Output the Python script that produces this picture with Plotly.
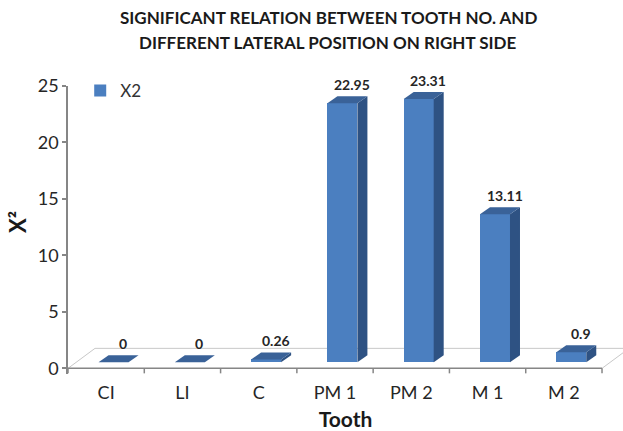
import plotly.graph_objects as go

# Chi-square values per tooth (right side)
teeth = ["CI", "LI", "C", "PM 1", "PM 2", "M 1", "M 2"]
chi2 = [0, 0, 0.26, 22.95, 23.31, 13.11, 0.9]
y_ticks = [0, 5, 10, 15, 20, 25]
series_name = "X2"
title_lines = ["SIGNIFICANT RELATION BETWEEN TOOTH NO. AND",
               "DIFFERENT LATERAL POSITION ON RIGHT SIDE"]

W, H = 623, 431
ML, MR, MT, MB = 68, 0, 86, 57
X_RANGE = [-0.5, 6.775]
Y_RANGE = [-0.5, 25]
PLOT_W = W - ML - MR
PLOT_H = H - MT - MB
PX_X = PLOT_W / (X_RANGE[1] - X_RANGE[0])   # pixels per x unit
PX_Y = PLOT_H / (Y_RANGE[1] - Y_RANGE[0])   # pixels per y unit

# pseudo-3D geometry (pixel offsets converted to data units)
FLOOR_DX, FLOOR_DY = 27 / PX_X, 20 / PX_Y
BAR_SHIFT = 7.4 / PX_X
BAR_W = 30 / PX_X
BAR_BASE = 6 / PX_Y
DEPTH_DX, DEPTH_DY = 10 / PX_X, 7 / PX_Y

FRONT = "#4B7FC0"
TOP = "#3A6298"
SIDE = "#2E5283"
FONT = "Lato"

fig = go.Figure()
n = len(teeth)
x_lo, x_hi = -0.5, n - 0.5

# floor of the 3D plot area, kept underneath the bars
floor_pts = [(x_lo, 0), (x_lo + FLOOR_DX, FLOOR_DY),
             (x_hi + FLOOR_DX, FLOOR_DY), (x_hi, 0)]
for (ax, ay), (bx, by) in zip(floor_pts[:-1], floor_pts[1:]):
    fig.add_shape(type="line", xref="x", yref="y", x0=ax, y0=ay, x1=bx, y1=by,
                  line=dict(color="#C8C8C8", width=1), layer="below")

# front edge of the floor with category boundary ticks
fig.add_shape(type="line", xref="x", yref="y", x0=x_lo, y0=0, x1=x_hi, y1=0,
              line=dict(color="#868686", width=1.5), layer="below")
for k in range(n + 1):
    b = x_lo + k
    fig.add_shape(type="line", xref="x", yref="y", x0=b, y0=0, x1=b, y1=-5 / PX_Y,
                  line=dict(color="#868686", width=1.5), layer="below")

# front faces of the bars
xs = [i + BAR_SHIFT for i in range(n)]
fig.add_trace(go.Bar(
    x=xs, y=chi2, base=BAR_BASE, width=BAR_W, name=series_name,
    marker=dict(color=FRONT, line=dict(width=0)), showlegend=True))

# top and side faces
for xc, v in zip(xs, chi2):
    x0, x1 = xc - BAR_W / 2, xc + BAR_W / 2
    t = BAR_BASE + v
    fig.add_trace(go.Scatter(
        x=[x1, x1 + DEPTH_DX, x1 + DEPTH_DX, x1, x1],
        y=[BAR_BASE, BAR_BASE + DEPTH_DY, t + DEPTH_DY, t, BAR_BASE],
        fill="toself", fillcolor=SIDE, mode="lines", line=dict(width=0, color=SIDE),
        hoverinfo="skip", showlegend=False))
    fig.add_trace(go.Scatter(
        x=[x0, x1, x1 + DEPTH_DX, x0 + DEPTH_DX, x0],
        y=[t, t, t + DEPTH_DY, t + DEPTH_DY, t],
        fill="toself", fillcolor=TOP, mode="lines", line=dict(width=0, color=TOP),
        hoverinfo="skip", showlegend=False))

# value labels
for i, v in enumerate(chi2):
    fig.add_annotation(
        x=i + 17 / PX_X, y=BAR_BASE + v, yshift=19, text=f"{v:g}",
        showarrow=False, xanchor="center", yanchor="middle",
        font=dict(family=FONT, size=14, color="#262626", weight="bold"))

# two-line chart title
for line, ypix in zip(title_lines, [18, 42]):
    fig.add_annotation(
        xref="paper", yref="paper", x=(328 - ML) / PLOT_W,
        y=(H - MB - ypix) / PLOT_H, text=line, showarrow=False,
        xanchor="center", yanchor="middle",
        font=dict(family=FONT, size=17, color="#1a1a1a", weight="bold"))

# y-axis title
fig.add_annotation(
    xref="paper", yref="paper", x=(17 - ML) / PLOT_W, y=(H - MB - 222) / PLOT_H,
    text="X²", textangle=-90, showarrow=False, xanchor="center", yanchor="middle",
    font=dict(family=FONT, size=22, color="#1a1a1a", weight="bold"))

fig.update_layout(
    width=W, height=H,
    margin=dict(l=ML, r=MR, t=MT, b=MB, autoexpand=False),
    paper_bgcolor="white", plot_bgcolor="white",
    font=dict(family=FONT, color="#333333"),
    legend=dict(x=0.022, y=1.045, xanchor="left", yanchor="top",
                font=dict(family=FONT, size=17, color="#333333"),
                bgcolor="rgba(0,0,0,0)"),
    bargap=0,
    xaxis=dict(
        range=X_RANGE, tickmode="array", tickvals=list(range(n)), ticktext=teeth,
        ticks="", showline=False, showgrid=False, zeroline=False,
        tickfont=dict(family=FONT, size=18, color="#262626"),
        ticklabelstandoff=6,
        title=dict(text="Tooth", standoff=12,
                   font=dict(family=FONT, size=21, color="#1a1a1a", weight="bold"))),
    yaxis=dict(
        range=Y_RANGE, tickmode="array", tickvals=y_ticks,
        ticks="outside", ticklen=4, tickcolor="#868686", tickwidth=1.5,
        showline=True, linecolor="#868686", linewidth=1.5,
        showgrid=False, zeroline=False,
        tickfont=dict(family=FONT, size=18, color="#262626")),
)

fig.write_html("out.html")
